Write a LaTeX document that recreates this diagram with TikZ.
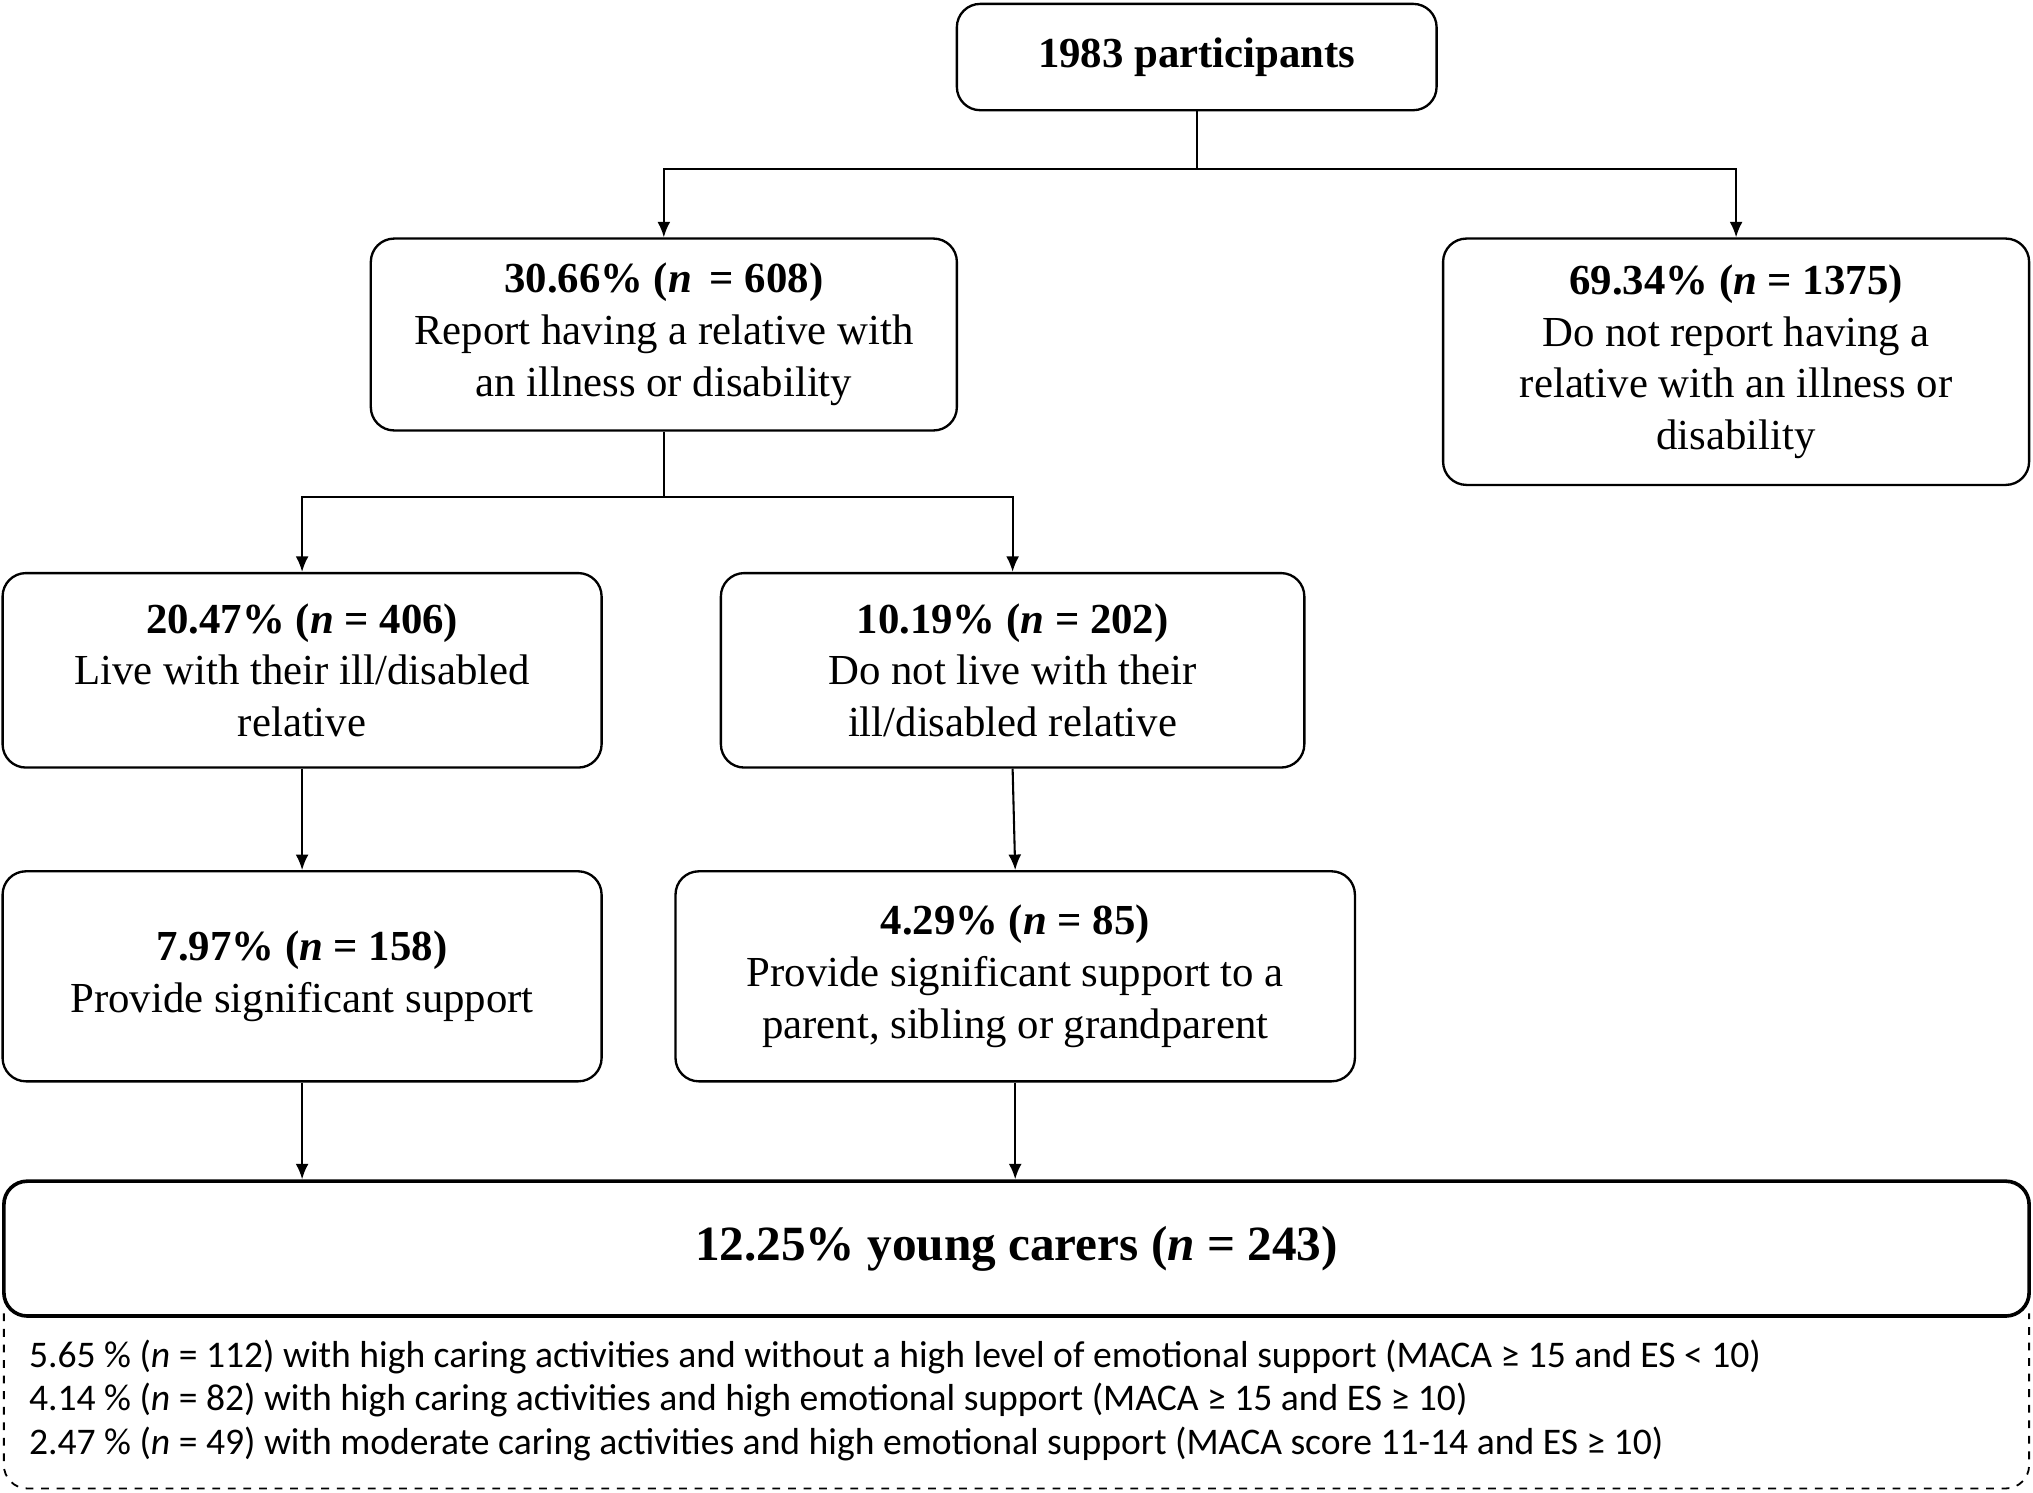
\documentclass[tikz,border=0pt]{standalone}
\usepackage{fontspec}
\setmainfont{Liberation Serif}
\newfontfamily\calib{Carlito}
\usetikzlibrary{arrows.meta}
\begin{document}
\begin{tikzpicture}[x=0.5pt,y=-0.5pt,
  box/.style={draw,rounded corners=9pt,line width=0.9pt,align=center,inner sep=0pt,font=\fontsize{16.5}{20}\selectfont},
  arr/.style={-{Latex[length=6pt,width=5pt]},line width=0.8pt},
  ln/.style={line width=0.8pt}]
\useasboundingbox (0,0) rectangle (1568,1151);
\node[box,minimum width=185pt,minimum height=41pt] (top) at (923,44) {\textbf{1983 participants}};
\node[box,minimum width=226pt,minimum height=74pt] (b1) at (512,258) {\textbf{30.66\% (\textit{n}\, = 608)}\\Report having a relative with\\an illness or disability};
\node[box,minimum width=226pt,minimum height=95pt] (b2) at (1339,279) {\textbf{69.34\% (\textit{n} = 1375)}\\Do not report having a\\relative with an illness or\\disability};
\node[box,minimum width=231pt,minimum height=75pt] (b3) at (233,517) {\textbf{20.47\% (\textit{n} = 406)}\\Live with their ill/disabled\\relative};
\node[box,minimum width=225pt,minimum height=75pt] (b4) at (781,517) {\textbf{10.19\% (\textit{n} = 202)}\\Do not live with their\\ill/disabled relative};
\node[box,minimum width=231pt,minimum height=81pt] (b5) at (233,753) {\textbf{7.97\% (\textit{n} = 158)}\\Provide significant support};
\node[box,minimum width=262pt,minimum height=81pt] (b6) at (783,753) {\textbf{4.29\% (\textit{n} = 85)}\\Provide significant support to a\\parent, sibling or grandparent};
\node[box,line width=1.4pt,minimum width=781pt,minimum height=52pt,font=\fontsize{19}{23}\selectfont] (big) at (784,963) {\textbf{12.25\% young carers (\textit{n} = 243)}};
\draw[dashed,line width=0.7pt,rounded corners=9pt] (3,1013) -- (3,1148) -- (1565,1148) -- (1565,1013);
\node[anchor=west,inner sep=0pt,align=left,font=\calib\fontsize{14.5}{16.7}\selectfont] (txt) at (22,1080) {5.65 \% (\textit{n} = 112) with high caring activities and without a high level of emotional support (MACA ≥ 15 and ES < 10)\\4.14 \% (\textit{n} = 82) with high caring activities and high emotional support (MACA ≥ 15 and ES ≥ 10)\\2.47 \% (\textit{n} = 49) with moderate caring activities and high emotional support (MACA score 11-14 and ES ≥ 10)};
\coordinate (j1) at (923,130);
\coordinate (j2) at (512,383);
\draw[ln] (top.south) -- (j1);
\draw[arr] (j1) -| (b1.north);
\draw[arr] (j1) -| (b2.north);
\draw[ln] (b1.south) -- (j2);
\draw[arr] (j2) -| (b3.north);
\draw[arr] (j2) -| (b4.north);
\draw[arr] (b3.south) -- (b5.north);
\draw[arr] (b4.south) -- (b6.north);
\draw[arr] (b5.south) -- (b5.south |- big.north);
\draw[arr] (b6.south) -- (b6.south |- big.north);
\end{tikzpicture}
\end{document}
